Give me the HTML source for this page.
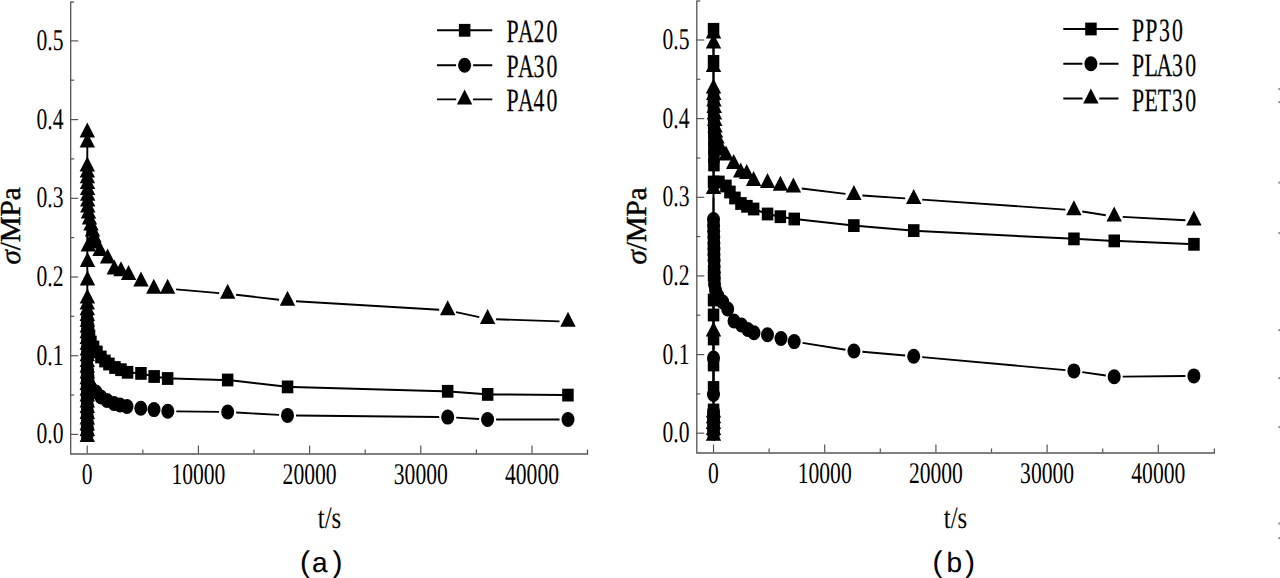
<!DOCTYPE html>
<html><head><meta charset="utf-8"><style>html,body{margin:0;padding:0;background:#fff;overflow:hidden}svg{display:block}text{text-rendering:geometricPrecision}</style></head>
<body><svg width="1280" height="578" viewBox="0 0 1280 578"><path d="M70.7 1.5V454.0H587.5V449.5" stroke="#555" stroke-width="1.3" fill="none"/><path d="M70.7 2.0H74.2" stroke="#555" stroke-width="1.3"/><path d="M70.2 434.4H78.2" stroke="#555" stroke-width="1.2"/><path d="M70.2 395.0H74.2" stroke="#555" stroke-width="1.2"/><path d="M70.2 355.7H78.2" stroke="#555" stroke-width="1.2"/><path d="M70.2 316.3H74.2" stroke="#555" stroke-width="1.2"/><path d="M70.2 277.0H78.2" stroke="#555" stroke-width="1.2"/><path d="M70.2 237.6H74.2" stroke="#555" stroke-width="1.2"/><path d="M70.2 198.3H78.2" stroke="#555" stroke-width="1.2"/><path d="M70.2 158.9H74.2" stroke="#555" stroke-width="1.2"/><path d="M70.2 119.6H78.2" stroke="#555" stroke-width="1.2"/><path d="M70.2 80.2H74.2" stroke="#555" stroke-width="1.2"/><path d="M70.2 40.9H78.2" stroke="#555" stroke-width="1.2"/><path d="M87.2 453.5V445.5" stroke="#555" stroke-width="1.2"/><path d="M142.8 453.5V449.5" stroke="#555" stroke-width="1.2"/><path d="M198.4 453.5V445.5" stroke="#555" stroke-width="1.2"/><path d="M254.0 453.5V449.5" stroke="#555" stroke-width="1.2"/><path d="M309.6 453.5V445.5" stroke="#555" stroke-width="1.2"/><path d="M365.2 453.5V449.5" stroke="#555" stroke-width="1.2"/><path d="M420.8 453.5V445.5" stroke="#555" stroke-width="1.2"/><path d="M476.4 453.5V449.5" stroke="#555" stroke-width="1.2"/><path d="M532.0 453.5V445.5" stroke="#555" stroke-width="1.2"/>
<path d="M696.8 0.5V453.0H1214.4V448.5" stroke="#555" stroke-width="1.3" fill="none"/><path d="M696.8 1.0H700.3" stroke="#555" stroke-width="1.3"/><path d="M696.3 433.2H704.3" stroke="#555" stroke-width="1.2"/><path d="M696.3 393.9H700.3" stroke="#555" stroke-width="1.2"/><path d="M696.3 354.6H704.3" stroke="#555" stroke-width="1.2"/><path d="M696.3 315.2H700.3" stroke="#555" stroke-width="1.2"/><path d="M696.3 275.9H704.3" stroke="#555" stroke-width="1.2"/><path d="M696.3 236.6H700.3" stroke="#555" stroke-width="1.2"/><path d="M696.3 197.3H704.3" stroke="#555" stroke-width="1.2"/><path d="M696.3 158.0H700.3" stroke="#555" stroke-width="1.2"/><path d="M696.3 118.6H704.3" stroke="#555" stroke-width="1.2"/><path d="M696.3 79.3H700.3" stroke="#555" stroke-width="1.2"/><path d="M696.3 40.0H704.3" stroke="#555" stroke-width="1.2"/><path d="M713.5 452.5V444.5" stroke="#555" stroke-width="1.2"/><path d="M769.1 452.5V448.5" stroke="#555" stroke-width="1.2"/><path d="M824.7 452.5V444.5" stroke="#555" stroke-width="1.2"/><path d="M880.3 452.5V448.5" stroke="#555" stroke-width="1.2"/><path d="M935.9 452.5V444.5" stroke="#555" stroke-width="1.2"/><path d="M991.5 452.5V448.5" stroke="#555" stroke-width="1.2"/><path d="M1047.1 452.5V444.5" stroke="#555" stroke-width="1.2"/><path d="M1102.7 452.5V448.5" stroke="#555" stroke-width="1.2"/><path d="M1158.3 452.5V444.5" stroke="#555" stroke-width="1.2"/>
<text transform="translate(63.5 443.4) scale(0.72 1)" font-family="Liberation Serif" font-size="30" text-anchor="end" >0.0</text>
<text transform="translate(689.5 442.2) scale(0.72 1)" font-family="Liberation Serif" font-size="30" text-anchor="end" >0.0</text>
<text transform="translate(63.5 364.7) scale(0.72 1)" font-family="Liberation Serif" font-size="30" text-anchor="end" >0.1</text>
<text transform="translate(689.5 363.6) scale(0.72 1)" font-family="Liberation Serif" font-size="30" text-anchor="end" >0.1</text>
<text transform="translate(63.5 286.0) scale(0.72 1)" font-family="Liberation Serif" font-size="30" text-anchor="end" >0.2</text>
<text transform="translate(689.5 284.9) scale(0.72 1)" font-family="Liberation Serif" font-size="30" text-anchor="end" >0.2</text>
<text transform="translate(63.5 207.3) scale(0.72 1)" font-family="Liberation Serif" font-size="30" text-anchor="end" >0.3</text>
<text transform="translate(689.5 206.3) scale(0.72 1)" font-family="Liberation Serif" font-size="30" text-anchor="end" >0.3</text>
<text transform="translate(63.5 128.6) scale(0.72 1)" font-family="Liberation Serif" font-size="30" text-anchor="end" >0.4</text>
<text transform="translate(689.5 127.6) scale(0.72 1)" font-family="Liberation Serif" font-size="30" text-anchor="end" >0.4</text>
<text transform="translate(63.5 49.9) scale(0.72 1)" font-family="Liberation Serif" font-size="30" text-anchor="end" >0.5</text>
<text transform="translate(689.5 49.0) scale(0.72 1)" font-family="Liberation Serif" font-size="30" text-anchor="end" >0.5</text>
<text transform="translate(87.2 484.0) scale(0.72 1)" font-family="Liberation Serif" font-size="30" text-anchor="middle" >0</text>
<text transform="translate(713.5 483.0) scale(0.72 1)" font-family="Liberation Serif" font-size="30" text-anchor="middle" >0</text>
<text transform="translate(198.4 484.0) scale(0.72 1)" font-family="Liberation Serif" font-size="30" text-anchor="middle" >10000</text>
<text transform="translate(824.7 483.0) scale(0.72 1)" font-family="Liberation Serif" font-size="30" text-anchor="middle" >10000</text>
<text transform="translate(309.6 484.0) scale(0.72 1)" font-family="Liberation Serif" font-size="30" text-anchor="middle" >20000</text>
<text transform="translate(935.9 483.0) scale(0.72 1)" font-family="Liberation Serif" font-size="30" text-anchor="middle" >20000</text>
<text transform="translate(420.8 484.0) scale(0.72 1)" font-family="Liberation Serif" font-size="30" text-anchor="middle" >30000</text>
<text transform="translate(1047.1 483.0) scale(0.72 1)" font-family="Liberation Serif" font-size="30" text-anchor="middle" >30000</text>
<text transform="translate(532.0 484.0) scale(0.72 1)" font-family="Liberation Serif" font-size="30" text-anchor="middle" >40000</text>
<text transform="translate(1158.3 483.0) scale(0.72 1)" font-family="Liberation Serif" font-size="30" text-anchor="middle" >40000</text>
<text transform="translate(329.5 528.0) scale(0.8 1)" font-family="Liberation Serif" font-size="31" text-anchor="middle" >t/s</text>
<text transform="translate(955.5 528.0) scale(0.8 1)" font-family="Liberation Serif" font-size="31" text-anchor="middle" >t/s</text>
<path d="M132.5 372.7L136.0 373.0M145.9 374.5L149.3 375.4M159.1 377.2L162.8 377.8M172.7 378.6L222.7 379.9M232.7 380.6L282.5 386.3M292.5 387.0L442.7 391.2M452.7 391.7L482.6 394.0M492.6 394.4L563.0 395.1" stroke="#000" stroke-width="2.0" fill="none"/>
<g fill="#000"><rect x="81.5" y="428.0" width="11.5" height="12.8"/><rect x="81.5" y="421.9" width="11.5" height="12.8"/><rect x="81.5" y="415.7" width="11.5" height="12.8"/><rect x="81.5" y="409.6" width="11.5" height="12.8"/><rect x="81.5" y="403.5" width="11.5" height="12.8"/><rect x="81.5" y="397.4" width="11.5" height="12.8"/><rect x="81.5" y="391.2" width="11.5" height="12.8"/><rect x="81.5" y="385.1" width="11.5" height="12.8"/><rect x="81.5" y="379.0" width="11.5" height="12.8"/><rect x="81.5" y="372.9" width="11.5" height="12.8"/><rect x="81.5" y="366.7" width="11.5" height="12.8"/><rect x="81.5" y="360.6" width="11.5" height="12.8"/><rect x="81.5" y="354.5" width="11.5" height="12.8"/><rect x="81.5" y="348.4" width="11.5" height="12.8"/><rect x="81.5" y="342.2" width="11.5" height="12.8"/><rect x="81.5" y="336.1" width="11.5" height="12.8"/><rect x="81.5" y="330.0" width="11.5" height="12.8"/><rect x="81.5" y="323.9" width="11.5" height="12.8"/><rect x="81.5" y="317.7" width="11.5" height="12.8"/><rect x="81.5" y="311.6" width="11.5" height="12.8"/><rect x="81.5" y="311.6" width="11.5" height="12.8"/><rect x="82.2" y="317.6" width="11.5" height="12.8"/><rect x="82.8" y="323.6" width="11.5" height="12.8"/><rect x="83.8" y="329.6" width="11.5" height="12.8"/><rect x="85.2" y="335.6" width="11.5" height="12.8"/><rect x="87.8" y="340.6" width="11.5" height="12.8"/><rect x="91.2" y="345.6" width="11.5" height="12.8"/><rect x="95.2" y="350.6" width="11.5" height="12.8"/><rect x="99.2" y="354.6" width="11.5" height="12.8"/><rect x="103.2" y="357.6" width="11.5" height="12.8"/><rect x="109.2" y="361.1" width="11.5" height="12.8"/><rect x="115.2" y="363.3" width="11.5" height="12.8"/><rect x="121.8" y="365.9" width="11.5" height="12.8"/><rect x="135.2" y="367.0" width="11.5" height="12.8"/><rect x="148.4" y="370.1" width="11.5" height="12.8"/><rect x="161.9" y="372.1" width="11.5" height="12.8"/><rect x="221.9" y="373.6" width="11.5" height="12.8"/><rect x="281.8" y="380.5" width="11.5" height="12.8"/><rect x="441.9" y="384.9" width="11.5" height="12.8"/><rect x="481.9" y="388.0" width="11.5" height="12.8"/><rect x="562.2" y="388.7" width="11.5" height="12.8"/></g>
<path d="M176.3 411.4L219.2 411.9M236.2 412.5L279.0 414.9M296.0 415.5L439.2 417.0M456.2 417.6L479.1 419.0M496.1 419.5L559.5 419.5" stroke="#000" stroke-width="1.9" fill="none"/>
<g fill="#000"><ellipse cx="87.3" cy="434.4" rx="6.5" ry="7.5"/><ellipse cx="87.3" cy="428.5" rx="6.5" ry="7.5"/><ellipse cx="87.3" cy="422.7" rx="6.5" ry="7.5"/><ellipse cx="87.3" cy="416.8" rx="6.5" ry="7.5"/><ellipse cx="87.3" cy="411.0" rx="6.5" ry="7.5"/><ellipse cx="87.3" cy="405.1" rx="6.5" ry="7.5"/><ellipse cx="87.3" cy="399.3" rx="6.5" ry="7.5"/><ellipse cx="87.3" cy="393.4" rx="6.5" ry="7.5"/><ellipse cx="87.3" cy="387.6" rx="6.5" ry="7.5"/><ellipse cx="87.3" cy="381.7" rx="6.5" ry="7.5"/><ellipse cx="87.3" cy="375.9" rx="6.5" ry="7.5"/><ellipse cx="87.3" cy="370.0" rx="6.5" ry="7.5"/><ellipse cx="87.3" cy="370.0" rx="6.5" ry="7.5"/><ellipse cx="87.9" cy="376.5" rx="6.5" ry="7.5"/><ellipse cx="88.5" cy="383.0" rx="6.5" ry="7.5"/><ellipse cx="91.0" cy="388.0" rx="6.5" ry="7.5"/><ellipse cx="96.0" cy="392.0" rx="6.5" ry="7.5"/><ellipse cx="101.0" cy="397.0" rx="6.5" ry="7.5"/><ellipse cx="107.0" cy="400.5" rx="6.5" ry="7.5"/><ellipse cx="114.0" cy="403.4" rx="6.5" ry="7.5"/><ellipse cx="120.0" cy="405.0" rx="6.5" ry="7.5"/><ellipse cx="127.0" cy="406.5" rx="6.5" ry="7.5"/><ellipse cx="140.8" cy="408.2" rx="6.5" ry="7.5"/><ellipse cx="154.0" cy="409.6" rx="6.5" ry="7.5"/><ellipse cx="167.8" cy="411.3" rx="6.5" ry="7.5"/><ellipse cx="227.7" cy="412.0" rx="6.5" ry="7.5"/><ellipse cx="287.5" cy="415.4" rx="6.5" ry="7.5"/><ellipse cx="447.7" cy="417.1" rx="6.5" ry="7.5"/><ellipse cx="487.6" cy="419.5" rx="6.5" ry="7.5"/><ellipse cx="568.0" cy="419.5" rx="6.5" ry="7.5"/></g>
<path d="M87.5 270.5L87.5 272.0M87.5 289.0L87.4 290.0M87.3 428.4L87.3 141.0M87.3 151.0L87.3 158.0M176.1 289.4L219.2 293.1M236.1 294.8L279.1 299.7M296.0 301.2L439.2 309.8M456.0 312.1L479.3 317.1M496.1 319.2L559.5 321.4" stroke="#000" stroke-width="1.9" fill="none"/>
<g fill="#000"><path d="M87.5 252.0L95.2 267.0L79.8 267.0Z"/><path d="M87.5 270.5L95.2 285.5L79.8 285.5Z"/><path d="M87.4 288.5L95.1 303.5L79.7 303.5Z"/><path d="M87.3 294.5L95.0 309.5L79.6 309.5Z"/><path d="M87.3 300.3L95.0 315.3L79.6 315.3Z"/><path d="M87.3 306.0L95.0 321.0L79.6 321.0Z"/><path d="M87.3 311.8L95.0 326.8L79.6 326.8Z"/><path d="M87.3 317.5L95.0 332.5L79.6 332.5Z"/><path d="M87.3 323.3L95.0 338.3L79.6 338.3Z"/><path d="M87.3 329.0L95.0 344.0L79.6 344.0Z"/><path d="M87.3 334.8L95.0 349.8L79.6 349.8Z"/><path d="M87.3 340.6L95.0 355.6L79.6 355.6Z"/><path d="M87.3 346.3L95.0 361.3L79.6 361.3Z"/><path d="M87.3 352.1L95.0 367.1L79.6 367.1Z"/><path d="M87.3 357.8L95.0 372.8L79.6 372.8Z"/><path d="M87.3 363.6L95.0 378.6L79.6 378.6Z"/><path d="M87.3 369.3L95.0 384.3L79.6 384.3Z"/><path d="M87.3 375.1L95.0 390.1L79.6 390.1Z"/><path d="M87.3 380.8L95.0 395.8L79.6 395.8Z"/><path d="M87.3 386.6L95.0 401.6L79.6 401.6Z"/><path d="M87.3 392.4L95.0 407.4L79.6 407.4Z"/><path d="M87.3 398.1L95.0 413.1L79.6 413.1Z"/><path d="M87.3 403.9L95.0 418.9L79.6 418.9Z"/><path d="M87.3 409.6L95.0 424.6L79.6 424.6Z"/><path d="M87.3 415.4L95.0 430.4L79.6 430.4Z"/><path d="M87.3 421.1L95.0 436.1L79.6 436.1Z"/><path d="M87.3 426.9L95.0 441.9L79.6 441.9Z"/><path d="M87.3 122.5L95.0 137.5L79.6 137.5Z"/><path d="M87.3 132.5L95.0 147.5L79.6 147.5Z"/><path d="M87.3 156.5L95.0 171.5L79.6 171.5Z"/><path d="M87.4 162.4L95.1 177.4L79.7 177.4Z"/><path d="M87.4 168.2L95.1 183.2L79.7 183.2Z"/><path d="M87.5 174.1L95.2 189.1L79.8 189.1Z"/><path d="M87.6 179.9L95.3 194.9L79.9 194.9Z"/><path d="M87.7 185.8L95.4 200.8L80.0 200.8Z"/><path d="M87.7 191.6L95.4 206.6L80.0 206.6Z"/><path d="M87.8 197.5L95.5 212.5L80.1 212.5Z"/><path d="M88.5 203.5L96.2 218.5L80.8 218.5Z"/><path d="M89.5 209.5L97.2 224.5L81.8 224.5Z"/><path d="M91.0 215.5L98.7 230.5L83.3 230.5Z"/><path d="M92.5 221.5L100.2 236.5L84.8 236.5Z"/><path d="M94.0 227.5L101.7 242.5L86.3 242.5Z"/><path d="M88.3 236.5L96.0 251.5L80.6 251.5Z"/><path d="M95.0 233.5L102.7 248.5L87.3 248.5Z"/><path d="M100.0 241.0L107.7 256.0L92.3 256.0Z"/><path d="M107.6 248.5L115.3 263.5L99.9 263.5Z"/><path d="M114.3 259.5L122.0 274.5L106.6 274.5Z"/><path d="M121.0 261.2L128.7 276.2L113.3 276.2Z"/><path d="M128.6 264.9L136.3 279.9L120.9 279.9Z"/><path d="M141.0 271.5L148.7 286.5L133.3 286.5Z"/><path d="M153.8 278.7L161.5 293.7L146.1 293.7Z"/><path d="M167.6 278.7L175.3 293.7L159.9 293.7Z"/><path d="M227.7 283.8L235.4 298.8L220.0 298.8Z"/><path d="M287.5 290.7L295.2 305.7L279.8 305.7Z"/><path d="M447.7 300.3L455.4 315.3L440.0 315.3Z"/><path d="M487.6 308.9L495.3 323.9L479.9 323.9Z"/><path d="M568.0 311.7L575.7 326.7L560.3 326.7Z"/></g>
<path d="M713.5 230.0L713.5 245.0M713.5 255.0L713.5 270.0M713.5 280.0L713.5 295.0M713.5 305.0L713.5 310.0M713.5 320.0L713.5 334.0M713.5 344.0L713.5 360.0M713.5 370.0L713.5 382.5M713.5 392.5L713.5 405.0M713.5 428.2L713.5 66.4M713.5 56.4L713.5 34.3M713.5 34.3L713.5 93.0M713.9 170.0L713.6 177.0M758.3 210.7L762.8 212.3M772.4 215.0L775.5 215.7M785.3 217.5L789.4 218.2M799.3 219.6L848.9 225.0M858.9 226.0L908.7 230.2M918.7 230.9L1068.9 238.6M1078.9 239.1L1109.2 240.7M1119.2 241.1L1188.9 244.1" stroke="#000" stroke-width="2.0" fill="none"/>
<g fill="#000"><rect x="707.8" y="218.6" width="11.5" height="12.8"/><rect x="707.8" y="243.6" width="11.5" height="12.8"/><rect x="707.8" y="268.6" width="11.5" height="12.8"/><rect x="707.8" y="293.6" width="11.5" height="12.8"/><rect x="707.8" y="308.6" width="11.5" height="12.8"/><rect x="707.8" y="332.6" width="11.5" height="12.8"/><rect x="707.8" y="358.6" width="11.5" height="12.8"/><rect x="707.8" y="381.1" width="11.5" height="12.8"/><rect x="707.8" y="403.6" width="11.5" height="12.8"/><rect x="707.8" y="408.2" width="11.5" height="12.8"/><rect x="707.8" y="412.9" width="11.5" height="12.8"/><rect x="707.8" y="417.5" width="11.5" height="12.8"/><rect x="707.8" y="422.2" width="11.5" height="12.8"/><rect x="707.8" y="426.8" width="11.5" height="12.8"/><rect x="707.8" y="55.0" width="11.5" height="12.8"/><rect x="707.8" y="22.9" width="11.5" height="12.8"/><rect x="707.8" y="91.6" width="11.5" height="12.8"/><rect x="707.8" y="100.0" width="11.5" height="12.8"/><rect x="707.9" y="108.3" width="11.5" height="12.8"/><rect x="707.9" y="116.7" width="11.5" height="12.8"/><rect x="708.0" y="125.1" width="11.5" height="12.8"/><rect x="708.1" y="133.5" width="11.5" height="12.8"/><rect x="708.1" y="141.8" width="11.5" height="12.8"/><rect x="708.2" y="150.2" width="11.5" height="12.8"/><rect x="708.2" y="158.6" width="11.5" height="12.8"/><rect x="707.8" y="175.6" width="11.5" height="12.8"/><rect x="713.2" y="175.6" width="11.5" height="12.8"/><rect x="720.2" y="179.6" width="11.5" height="12.8"/><rect x="724.2" y="185.6" width="11.5" height="12.8"/><rect x="729.2" y="191.6" width="11.5" height="12.8"/><rect x="735.2" y="197.1" width="11.5" height="12.8"/><rect x="741.2" y="199.9" width="11.5" height="12.8"/><rect x="747.9" y="202.6" width="11.5" height="12.8"/><rect x="761.8" y="207.6" width="11.5" height="12.8"/><rect x="774.6" y="210.3" width="11.5" height="12.8"/><rect x="788.5" y="212.6" width="11.5" height="12.8"/><rect x="848.1" y="219.2" width="11.5" height="12.8"/><rect x="908.0" y="224.2" width="11.5" height="12.8"/><rect x="1068.2" y="232.5" width="11.5" height="12.8"/><rect x="1108.5" y="234.5" width="11.5" height="12.8"/><rect x="1188.2" y="237.9" width="11.5" height="12.8"/></g>
<path d="M713.5 403.5L713.5 403.0M713.5 386.0L713.5 366.5M713.5 349.5L713.5 228.0M802.6 342.9L845.5 349.7M862.4 351.8L905.2 355.5M922.2 357.1L1065.4 370.1M1082.3 372.1L1105.8 375.5M1122.7 376.6L1185.4 376.0" stroke="#000" stroke-width="1.9" fill="none"/>
<g fill="#000"><ellipse cx="713.5" cy="433.2" rx="6.5" ry="7.5"/><ellipse cx="713.5" cy="427.9" rx="6.5" ry="7.5"/><ellipse cx="713.5" cy="422.6" rx="6.5" ry="7.5"/><ellipse cx="713.5" cy="417.3" rx="6.5" ry="7.5"/><ellipse cx="713.5" cy="412.0" rx="6.5" ry="7.5"/><ellipse cx="713.5" cy="394.5" rx="6.5" ry="7.5"/><ellipse cx="713.5" cy="358.0" rx="6.5" ry="7.5"/><ellipse cx="713.5" cy="219.5" rx="6.5" ry="7.5"/><ellipse cx="713.6" cy="225.4" rx="6.5" ry="7.5"/><ellipse cx="713.7" cy="231.2" rx="6.5" ry="7.5"/><ellipse cx="713.8" cy="237.1" rx="6.5" ry="7.5"/><ellipse cx="713.9" cy="243.0" rx="6.5" ry="7.5"/><ellipse cx="714.0" cy="248.8" rx="6.5" ry="7.5"/><ellipse cx="714.0" cy="254.7" rx="6.5" ry="7.5"/><ellipse cx="714.1" cy="260.5" rx="6.5" ry="7.5"/><ellipse cx="714.2" cy="266.4" rx="6.5" ry="7.5"/><ellipse cx="714.3" cy="272.3" rx="6.5" ry="7.5"/><ellipse cx="714.4" cy="278.1" rx="6.5" ry="7.5"/><ellipse cx="714.5" cy="284.0" rx="6.5" ry="7.5"/><ellipse cx="715.5" cy="290.0" rx="6.5" ry="7.5"/><ellipse cx="718.0" cy="296.0" rx="6.5" ry="7.5"/><ellipse cx="722.8" cy="302.0" rx="6.5" ry="7.5"/><ellipse cx="727.7" cy="309.0" rx="6.5" ry="7.5"/><ellipse cx="734.0" cy="321.0" rx="6.5" ry="7.5"/><ellipse cx="741.5" cy="325.0" rx="6.5" ry="7.5"/><ellipse cx="747.8" cy="329.5" rx="6.5" ry="7.5"/><ellipse cx="754.0" cy="332.7" rx="6.5" ry="7.5"/><ellipse cx="767.5" cy="334.8" rx="6.5" ry="7.5"/><ellipse cx="781.0" cy="338.5" rx="6.5" ry="7.5"/><ellipse cx="794.2" cy="341.6" rx="6.5" ry="7.5"/><ellipse cx="853.9" cy="351.0" rx="6.5" ry="7.5"/><ellipse cx="913.7" cy="356.3" rx="6.5" ry="7.5"/><ellipse cx="1073.9" cy="370.9" rx="6.5" ry="7.5"/><ellipse cx="1114.2" cy="376.7" rx="6.5" ry="7.5"/><ellipse cx="1193.9" cy="375.9" rx="6.5" ry="7.5"/></g>
<path d="M713.5 404.0L713.5 340.0M713.5 323.0L713.5 197.5M713.5 180.5L713.5 75.5M713.5 58.5L713.5 52.0M713.5 42.0L713.5 80.0M801.8 188.5L845.5 193.9M862.4 195.5L905.2 198.4M922.2 199.6L1065.4 209.6M1082.3 211.5L1105.8 215.2M1122.7 216.9L1185.4 220.2" stroke="#000" stroke-width="1.9" fill="none"/>
<g fill="#000"><path d="M713.5 425.7L721.2 440.7L705.8 440.7Z"/><path d="M713.5 419.9L721.2 434.9L705.8 434.9Z"/><path d="M713.5 414.1L721.2 429.1L705.8 429.1Z"/><path d="M713.5 408.3L721.2 423.3L705.8 423.3Z"/><path d="M713.5 402.5L721.2 417.5L705.8 417.5Z"/><path d="M713.5 321.5L721.2 336.5L705.8 336.5Z"/><path d="M713.5 179.0L721.2 194.0L705.8 194.0Z"/><path d="M713.5 57.0L721.2 72.0L705.8 72.0Z"/><path d="M713.5 33.5L721.2 48.5L705.8 48.5Z"/><path d="M713.5 23.5L721.2 38.5L705.8 38.5Z"/><path d="M713.5 78.5L721.2 93.5L705.8 93.5Z"/><path d="M713.8 85.0L721.5 100.0L706.0 100.0Z"/><path d="M714.0 91.5L721.7 106.5L706.3 106.5Z"/><path d="M714.2 98.0L722.0 113.0L706.5 113.0Z"/><path d="M714.5 104.5L722.2 119.5L706.8 119.5Z"/><path d="M714.8 111.0L722.5 126.0L707.0 126.0Z"/><path d="M715.0 117.5L722.7 132.5L707.3 132.5Z"/><path d="M715.5 122.5L723.2 137.5L707.8 137.5Z"/><path d="M717.0 128.5L724.7 143.5L709.3 143.5Z"/><path d="M718.5 134.5L726.2 149.5L710.8 149.5Z"/><path d="M720.0 140.5L727.7 155.5L712.3 155.5Z"/><path d="M726.0 145.5L733.7 160.5L718.3 160.5Z"/><path d="M733.7 154.0L741.4 169.0L726.0 169.0Z"/><path d="M740.7 162.5L748.4 177.5L733.0 177.5Z"/><path d="M746.7 164.0L754.4 179.0L739.0 179.0Z"/><path d="M753.6 171.0L761.3 186.0L745.9 186.0Z"/><path d="M767.5 173.1L775.2 188.1L759.8 188.1Z"/><path d="M780.4 175.7L788.1 190.7L772.7 190.7Z"/><path d="M793.4 177.5L801.1 192.5L785.7 192.5Z"/><path d="M853.9 184.9L861.6 199.9L846.2 199.9Z"/><path d="M913.7 189.0L921.4 204.0L906.0 204.0Z"/><path d="M1073.9 200.2L1081.6 215.2L1066.2 215.2Z"/><path d="M1114.2 206.5L1121.9 221.5L1106.5 221.5Z"/><path d="M1193.9 210.6L1201.6 225.6L1186.2 225.6Z"/></g>
<path d="M437 30.3H464.6M464.6 30.3H492.3" stroke="#000" stroke-width="1.9"/>
<g fill="#000"><rect x="458.9" y="23.9" width="11.5" height="12.8"/></g>
<text transform="translate(0 42.3) scale(0.67 1)" font-family="Liberation Serif" font-size="32.5" text-anchor="middle" stroke="#000" stroke-width="0.25" x="765.07 784.70 804.33 823.96" y="0">PA20</text>
<path d="M437 65.2H456.1M473.1 65.2H492.3" stroke="#000" stroke-width="1.9"/>
<g fill="#000"><ellipse cx="464.6" cy="65.2" rx="6.5" ry="7.5"/></g>
<text transform="translate(0 77.2) scale(0.67 1)" font-family="Liberation Serif" font-size="32.5" text-anchor="middle" stroke="#000" stroke-width="0.25" x="765.07 784.70 804.33 823.96" y="0">PA30</text>
<path d="M437 99.4H456.20000000000005M473.0 99.4H492.3" stroke="#000" stroke-width="1.9"/>
<g fill="#000"><path d="M464.6 89.4L472.3 104.4L456.9 104.4Z"/></g>
<text transform="translate(0 111.4) scale(0.67 1)" font-family="Liberation Serif" font-size="32.5" text-anchor="middle" stroke="#000" stroke-width="0.25" x="765.07 784.70 804.33 823.96" y="0">PA40</text>
<path d="M1063.3 29H1090.9M1090.9 29H1118.5" stroke="#000" stroke-width="1.9"/>
<g fill="#000"><rect x="1085.2" y="22.6" width="11.5" height="12.8"/></g>
<text transform="translate(0 41.0) scale(0.67 1)" font-family="Liberation Serif" font-size="32.5" text-anchor="middle" stroke="#000" stroke-width="0.25" x="1698.66 1718.28 1737.91 1757.54" y="0">PP30</text>
<path d="M1063.3 63.8H1082.4M1099.4 63.8H1118.5" stroke="#000" stroke-width="1.9"/>
<g fill="#000"><ellipse cx="1090.9" cy="63.8" rx="6.5" ry="7.5"/></g>
<text transform="translate(0 75.8) scale(0.67 1)" font-family="Liberation Serif" font-size="32.5" text-anchor="middle" stroke="#000" stroke-width="0.25" x="1698.66 1718.28 1737.91 1757.54 1777.16" y="0">PLA30</text>
<path d="M1063.3 98.5H1082.5M1099.3000000000002 98.5H1118.5" stroke="#000" stroke-width="1.9"/>
<g fill="#000"><path d="M1090.9 88.5L1098.6 103.5L1083.2 103.5Z"/></g>
<text transform="translate(0 110.5) scale(0.67 1)" font-family="Liberation Serif" font-size="32.5" text-anchor="middle" stroke="#000" stroke-width="0.25" x="1698.66 1718.28 1737.91 1757.54 1777.16" y="0">PET30</text>
<text transform="translate(19.5 226) rotate(-90)" font-family="Liberation Serif" font-size="29" stroke="#000" stroke-width="0.4" text-anchor="middle"><tspan font-style="italic">σ</tspan>/MPa</text>
<text transform="translate(645.5 226) rotate(-90)" font-family="Liberation Serif" font-size="29" stroke="#000" stroke-width="0.4" text-anchor="middle"><tspan font-style="italic">σ</tspan>/MPa</text>
<text font-family="Liberation Sans" font-size="30" stroke="#000" stroke-width="0.1"><tspan x="300.0" y="572">(</tspan><tspan x="312.0" y="572" font-size="28">a</tspan><tspan x="332.5" y="572">)</tspan></text>
<text font-family="Liberation Sans" font-size="30" stroke="#000" stroke-width="0.1"><tspan x="932.5" y="572">(</tspan><tspan x="946.5" y="572" font-size="28">b</tspan><tspan x="965" y="572">)</tspan></text>
<g fill="#999"><rect x="1278.3" y="88" width="1.7" height="2.2"/><rect x="1278.3" y="101" width="1.7" height="2.2"/><rect x="1278.3" y="181.5" width="1.7" height="2.2"/><rect x="1278.3" y="232" width="1.7" height="2.2"/><rect x="1278.3" y="329" width="1.7" height="2.2"/><rect x="1278.3" y="377" width="1.7" height="2.2"/><rect x="1278.3" y="426" width="1.7" height="2.2"/><rect x="1278.3" y="522.5" width="1.7" height="2.2"/><rect x="1278.3" y="537" width="1.7" height="2.2"/></g></svg></body></html>
